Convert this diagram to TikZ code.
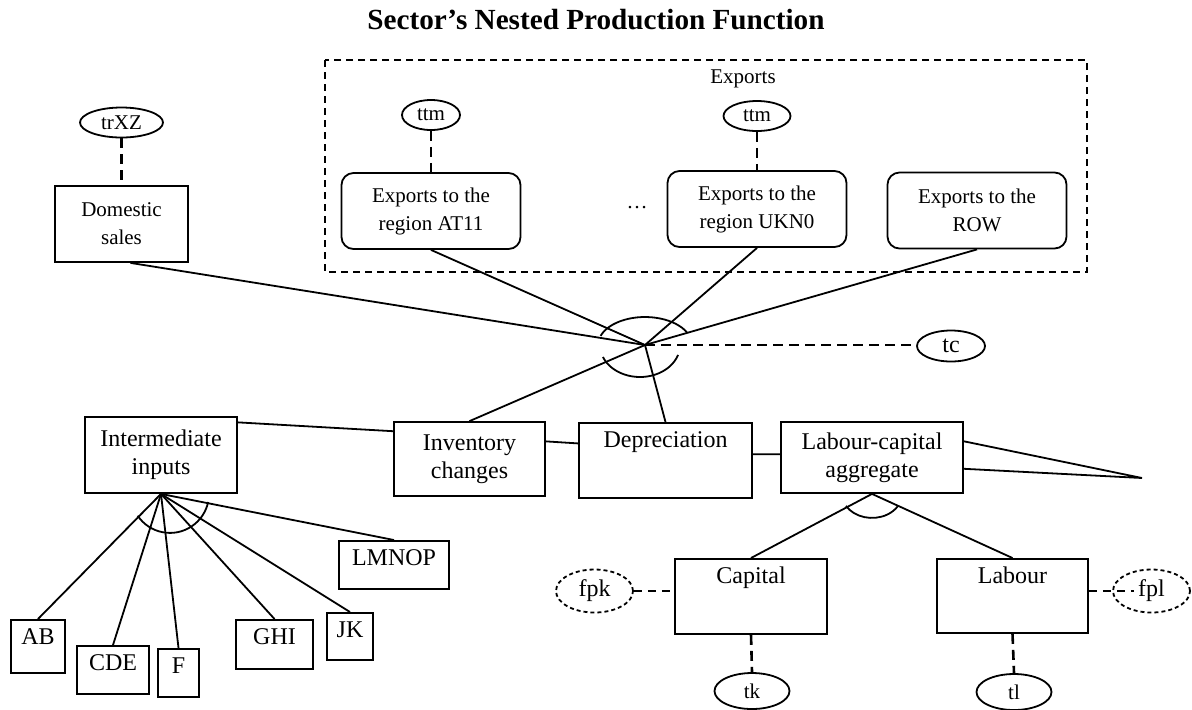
\documentclass[tikz,border=0pt]{standalone}
\usepackage{fontspec}
\setmainfont{Liberation Serif}
\usetikzlibrary{shapes.geometric,calc}
\tikzstyle{big}=[font=\fontsize{12}{14}\selectfont]
\tikzstyle{box}=[draw,line width=0.9pt,align=center,inner sep=2pt]
\tikzstyle{rbox}=[box,rounded corners=6pt]
\tikzstyle{topbox}=[draw,big,line width=0.9pt,inner ysep=3pt,text height=9.5pt,anchor=north]
\tikzstyle{tax}=[ellipse,draw,line width=0.9pt,inner sep=0pt]
\tikzstyle{factax}=[tax,big,dash pattern=on 2pt off 1.5pt]
\tikzstyle{undirectededge}=[draw,line width=0.9pt]
\tikzstyle{taxedge}=[draw,line width=1.3pt,dash pattern=on 5pt off 3pt]
\tikzstyle{thintaxedge}=[draw,line width=1pt,dash pattern=on 4pt off 3pt]
\tikzstyle{nest}=[line width=0.9pt]
\tikzstyle{group}=[draw,line width=0.7pt,dash pattern=on 3.5pt off 2.5pt]

\begin{document}
\begin{tikzpicture}[x=0.5pt,y=-0.5pt,font=\fontsize{10.5}{14}\selectfont]
    \useasboundingbox (0,0) rectangle (1192,709);
    \node[font=\bfseries\fontsize{14.6}{17}\selectfont] (title) at (596,20) {Sector’s Nested Production Function};

    % Output side: domestic sales and exports
    \draw[group] (325,60) rectangle (1087,272);
    \node (exlab) at (743,79) {Exports};
    \node[box,minimum width=66.5pt,minimum height=38pt] (dom) at (121.5,224) {Domestic\\sales};
    \foreach \pos/ \name/ \txt in {{(431,211)/at11/region AT11},{(757,209)/ukn0/region UKN0},{(977,210.5)/row/ROW}}
        \node[rbox,minimum width=89.5pt,minimum height=38pt] (\name) at \pos {Exports to the\\\txt};
    \node (dots) at (637,208) {\dots};

    % Taxes
    \foreach \pos/ \name/ \txt/ \w in {{(121.5,122.5)/trxz/trXZ/41.5pt},{(431,115)/ttma/ttm/29pt},{(757,116)/ttmb/ttm/33.5pt}}
        \node[tax,minimum width=\w,minimum height=15pt] (\name) at \pos {\txt};
    \node[tax,big,minimum width=34pt,minimum height=15.5pt] (tc) at (951,346) {tc};
    \foreach \pos/ \name/ \txt in {{(752,691)/tk/tk},{(1014,692)/tl/tl}}
        \node[tax,minimum width=37.5pt,minimum height=18pt] (\name) at \pos {\txt};
    \foreach \pos/ \name/ \txt in {{(594.5,591)/fpk/fpk},{(1151.5,591)/fpl/fpl}}
        \node[factax,minimum width=38.5pt,minimum height=21.5pt] (\name) at \pos {\txt};

    % Input side
    \node[box,big,minimum width=76pt,minimum height=38pt] (ii) at (161,455) {Intermediate\\inputs};
    \node[box,big,minimum width=75.5pt,minimum height=37pt] (inv) at (469.5,459) {Inventory\\changes};
    \node[topbox,minimum width=86.5pt,text depth=22pt] (dep) at (665.5,422) {Depreciation};
    \node[box,big,minimum width=91pt,minimum height=35.5pt] (lca) at (872,457.5) {Labour-capital\\aggregate};
    \node[topbox,minimum width=76pt,text depth=22pt] (cap) at (751,558) {Capital};
    \node[topbox,minimum width=75.5pt,text depth=21.5pt] (lab) at (1012.5,558) {Labour};

    % Intermediate goods
    \foreach \pos/ \name/ \w/ \d in {{(38,619)/AB/27pt/11pt},{(113,645)/CDE/36pt/8.5pt},{(178.5,648)/F/20.5pt/8.5pt},
        {(274.5,619)/GHI/38.5pt/9pt},{(350,612)/JK/23pt/8pt},{(394,540)/LMNOP/55pt/8.5pt}}
        \node[topbox,minimum width=\w,text depth=\d] (\name) at \pos {\name};

    \coordinate (J) at (645,345);
    \coordinate (tip) at (1142,478);

    % Top nest
    \path[undirectededge] (dom.-77) -- (J);
    \foreach \source in {at11,ukn0,row}
        \path[undirectededge] (\source.south) -- (J);
    \foreach \dest in {inv,dep}
        \path[undirectededge] (J) -- (\dest.north);
    \path[taxedge] (J) -- (J -| tc.west);
    \draw[nest] ($(J)+(199:47 and 28)$) arc[start angle=199,end angle=333,x radius=47,y radius=28];
    \draw[nest] ($(J)+(-5,0)+(158:40 and 32)$) arc[start angle=158,end angle=18,x radius=40,y radius=32];

    % Taxes on the nodes
    \foreach \tax/ \dest in {trxz/dom,ttma/at11,ttmb/ukn0}
        \path[taxedge] (\tax.south) -- (\tax.south |- \dest.north);
    \foreach \source/ \tax in {cap/tk,lab/tl}
        \path[taxedge] (\source.south) -- (\tax.north);
    \path[thintaxedge] (fpk.east) -- (fpk.east -| cap.west);
    \path[thintaxedge] (fpl.west -| lab.east) -- ($(fpl.west)+(22,0)$);

    % Chain of inputs
    \path[undirectededge] (ii.23) -- (inv.160);
    \path[undirectededge] (inv.13) -- (dep.169);
    \path[undirectededge] (dep.4) -- (lca.178);
    \path[undirectededge] (lca.10) -- (tip) -- (lca.-7);

    % Labour-capital nest
    \foreach \dest in {cap,lab}
        \path[undirectededge] (lca.south) -- (\dest.north);
    \draw[nest] ($(lca.south)+(150:30 and 24)$) arc[start angle=150,end angle=30,x radius=30,y radius=24];

    % Intermediate inputs nest
    \foreach \dest in {AB,CDE,F,GHI,JK,LMNOP}
        \path[undirectededge] (ii.south) -- (\dest.north);
    \draw[nest] ($(ii.south)+(9,0)+(146:39)$) arc[start angle=146,end angle=12,radius=39];
\end{tikzpicture}
\end{document}
